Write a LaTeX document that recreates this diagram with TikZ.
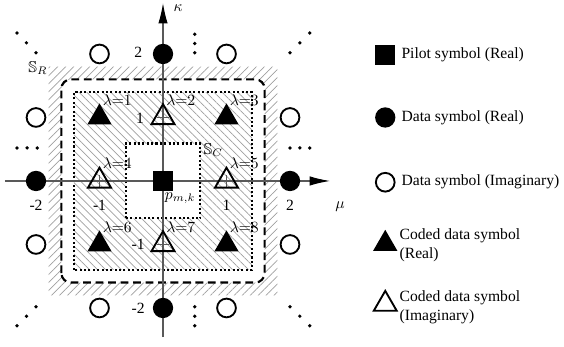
\documentclass[tikz,border=0pt]{standalone}
\usepackage{amssymb}
\usepackage{fontspec}
\setmainfont{Liberation Serif}
\usetikzlibrary{arrows.meta, positioning, patterns.meta, shapes.geometric}

\begin{document}
\begin{tikzpicture}[
    x=1.43cm, y=1.43cm,
    font=\fontsize{10}{12}\selectfont,
    >={Latex[length=13pt,width=6pt,black]},
    axis/.style={line width=0.7pt, black!65},
    pilot/.style={rectangle, fill, minimum size=12.8pt, inner sep=0pt},
    datare/.style={circle, fill, minimum size=13pt, inner sep=0pt},
    dataim/.style={circle, draw, line width=1.2pt, fill=white, minimum size=12pt, inner sep=0pt},
    codedre/.style={regular polygon, regular polygon sides=3, fill, minimum size=18pt, inner sep=0pt},
    codedim/.style={regular polygon, regular polygon sides=3, draw, line width=1.2pt, minimum size=17pt, inner sep=0pt},
    lamlabel/.style={inner sep=0pt},
    dot/.style={circle, fill, minimum size=2.4pt, inner sep=0pt},
    legtext/.style={anchor=west, align=left},
    dots/.style={line width=1.3pt, dash pattern=on 1.3pt off 1.5pt},
]

    \useasboundingbox (-2.567,-2.614) rectangle (6.315,2.850);

    % hatched regions
    \fill[pattern={Lines[angle=45, distance=3.6pt, line width=0.45pt]},
          pattern color=gray!75, even odd rule]
        (-1.8,-1.8) rectangle (1.8,1.8)
        {[rounded corners=6pt] (-1.6,-1.6) rectangle (1.6,1.6)};
    \fill[pattern={Lines[angle=-45, distance=3.6pt, line width=0.45pt]},
          pattern color=gray!75, even odd rule]
        (-1.4,-1.4) rectangle (1.4,1.4)
        (-0.59,-0.59) rectangle (0.59,0.59);

    % region borders
    \draw[line width=1.4pt, dash pattern=on 5pt off 3pt, rounded corners=6pt]
        (-1.6,-1.6) rectangle (1.6,1.6);
    \draw[dots] (-1.4,-1.4) rectangle (1.4,1.4);
    \draw[dots] (-0.59,-0.59) rectangle (0.59,0.59);

    % axes
    \coordinate (mu0) at (-2.49,0);
    \coordinate (mu1) at (2.63,0);
    \coordinate (ka0) at (0,-2.46);
    \coordinate (ka1) at (0,2.80);
    \draw[axis, ->] (mu0) -- (mu1);
    \draw[axis, ->] (ka0) -- (ka1);
    \foreach \t in {-2,-1,1,2} {
        \draw[axis] (\t,-0.1) -- (\t,0.1);
        \draw[axis] (-0.1,\t) -- (0.1,\t);
    }
    \node (kappa) at (0.24,2.72) {$\kappa$};
    \node (mu)    at (2.79,-0.40) {$\mu$};

    % symbols
    \node[pilot]  (p)  at (0,0) {};
    \node[datare] (dt) at (0,2) {};
    \node[datare] (db) at (0,-2) {};
    \node[datare] (dl) at (-2,0) {};
    \node[datare] (dr) at (2,0) {};
    \foreach \i/\x/\y in {1/-1/2, 2/1/2, 3/-2/1, 4/2/1, 5/-2/-1, 6/2/-1, 7/-1/-2, 8/1/-2}
        \node[dataim] (di\i) at (\x,\y) {};
    \foreach \lam/\x/\y/\s in {1/-1/1/codedre, 2/0/1/codedim, 3/1/1/codedre,
                               4/-1/0/codedim, 5/1/0/codedim,
                               6/-1/-1/codedre, 7/0/-1/codedim, 8/1/-1/codedre} {
        \node[\s] (c\lam) at (\x,\y) {};
        \node[lamlabel] (l\lam) at (\x+0.28,\y+0.28) {$\lambda{=}\lam$};
    }

    % axis numbers
    \node (nk2)  at (-0.39,2.02)  {2};
    \node (nk1)  at (-0.36,0.99)  {1};
    \node (nkm1) at (-0.39,-1.0)  {-1};
    \node (nkm2) at (-0.39,-2.0)  {-2};
    \node (nmm2) at (-2,-0.38)    {-2};
    \node (nmm1) at (-1,-0.38)    {-1};
    \node (nm1)  at (1,-0.38)     {1};
    \node (nm2)  at (2,-0.38)     {2};

    \node (sr)  at (-1.97,1.78) {$\mathbb{S}_R$};
    \node (sc)  at (0.79,0.49)  {$\mathbb{S}_C$};
    \node (pmk) at (0.27,-0.27) {$p_{m,k}$};

    % continuation dots
    \foreach \k in {0,1,2} {
        \node[dot] (vt\k) at (0.5,2.02+0.145*\k) {};
        \node[dot] (vb\k) at (0.5,-1.98-0.15*\k) {};
        \node[dot] (hl\k) at (-1.98-0.16*\k,0.52) {};
        \node[dot] (hr\k) at (2.0+0.155*\k,0.52) {};
        \node[dot] (tl\k) at (-2.0-0.15*\k,2.02+0.155*\k) {};
        \node[dot] (tr\k) at (2.0+0.155*\k,2.02+0.155*\k) {};
        \node[dot] (bl\k) at (-2.0-0.15*\k,-1.98-0.15*\k) {};
        \node[dot] (br\k) at (2.0+0.155*\k,-1.98-0.15*\k) {};
    }

    % legend
    \node[pilot]   (lg1) at (3.5,1.98)  {};
    \node[datare]  (lg2) at (3.5,1.0)   {};
    \node[dataim]  (lg3) at (3.5,-0.02) {};
    \node[codedre] (lg4) at (3.5,-0.99) {};
    \node[codedim] (lg5) at (3.5,-1.94) {};
    \node[legtext] (lt1) at (3.67,1.99)  {Pilot symbol (Real)};
    \node[legtext] (lt2) at (3.67,1.0)   {Data symbol (Real)};
    \node[legtext] (lt3) at (3.67,-0.02) {Data symbol (Imaginary)};
    \node[legtext] (lt4) at (3.64,-1.01) {Coded data symbol\\(Real)};
    \node[legtext] (lt5) at (3.64,-1.99) {Coded data symbol\\(Imaginary)};

\end{tikzpicture}
\end{document}
